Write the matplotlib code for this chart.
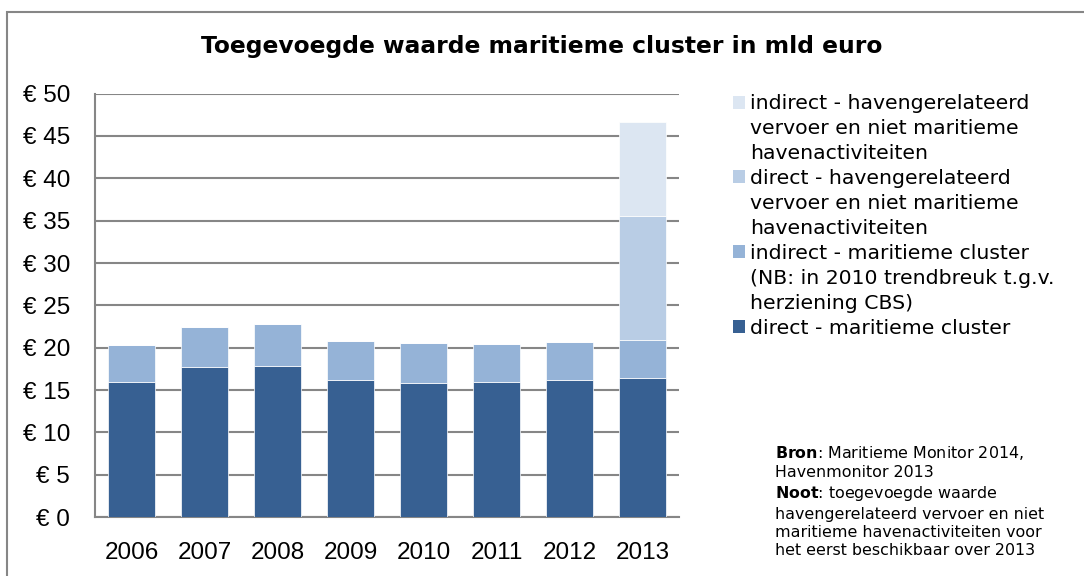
import matplotlib.pyplot as plt
from matplotlib.patches import Patch, Rectangle
import numpy as np

years = ["2006", "2007", "2008", "2009", "2010", "2011", "2012", "2013"]
direct_mar = [16.0, 17.7, 17.8, 16.2, 15.8, 16.0, 16.2, 16.4]
indirect_mar = [4.3, 4.7, 5.0, 4.6, 4.8, 4.4, 4.5, 4.5]
direct_haven = [0, 0, 0, 0, 0, 0, 0, 14.6]
indirect_haven = [0, 0, 0, 0, 0, 0, 0, 11.1]

labels = [
    "indirect - havengerelateerd\nvervoer en niet maritieme\nhavenactiviteiten",
    "direct - havengerelateerd\nvervoer en niet maritieme\nhavenactiviteiten",
    "indirect - maritieme cluster\n(NB: in 2010 trendbreuk t.g.v.\nherziening CBS)",
    "direct - maritieme cluster",
]
colors = ["#DCE6F2", "#B9CDE5", "#95B3D7", "#376092"]

tickfont = ["Liberation Sans", "DejaVu Sans"]

fig = plt.figure(figsize=(10.84, 5.76), dpi=100)
ax = fig.add_axes([0.0876, 0.1024, 0.539, 0.735])

x = np.arange(len(years))
w = 0.64
series = [direct_mar, indirect_mar, direct_haven, indirect_haven]
bottom = np.zeros(len(years))
for vals, col in zip(series, colors[::-1]):
    ax.bar(x, vals, w, bottom=bottom, color=col, edgecolor="white", linewidth=0.5, zorder=3)
    bottom += np.array(vals)

ax.set_ylim(0, 50)
ax.set_xlim(-0.5, len(years) - 0.5)
ax.set_yticks(range(0, 51, 5))
ax.set_yticklabels(["€ %d" % v for v in range(0, 51, 5)], family=tickfont, fontsize=17.5)
ax.set_xticks(x)
ax.set_xticklabels(years, family=tickfont, fontsize=17.5)
ax.tick_params(axis="y", length=0, pad=18)
ax.tick_params(axis="x", length=0, pad=18)
ax.yaxis.grid(True, color="#868686", linewidth=1.5, zorder=0)
for s in ["top", "right"]:
    ax.spines[s].set_visible(False)
for s in ["left", "bottom"]:
    ax.spines[s].set_color("#868686")
    ax.spines[s].set_linewidth(1.5)

fig.text(0.5, 0.92, "Toegevoegde waarde maritieme cluster in mld euro",
         ha="center", va="center", fontsize=16.8, fontweight="bold", family="DejaVu Sans")

# legend: one row per text line, square only on the first line of each entry
handles, lines = [], []
for lab, col in zip(labels, colors):
    for i, part in enumerate(lab.split("\n")):
        handles.append(Patch(facecolor=col if i == 0 else "none", edgecolor="none"))
        lines.append(part)
fig.legend(handles, lines, loc="upper left", bbox_to_anchor=(0.6666, 0.854),
           frameon=False, labelspacing=0.29, handlelength=0.6,
           handleheight=0.6, handletextpad=0.25, borderpad=0,
           prop={"family": "DejaVu Sans", "size": 14.7})

fig.text(0.715, 0.229,
         r"$\bf{Bron}$: Maritieme Monitor 2014," "\n" "Havenmonitor 2013" "\n"
         r"$\bf{Noot}$: toegevoegde waarde" "\n" "havengerelateerd vervoer en niet"
         "\n" "maritieme havenactiviteiten voor" "\n" "het eerst beschikbaar over 2013",
         fontsize=11.4, family="DejaVu Sans", va="top", linespacing=1.28)

fig.patches.append(Rectangle((0.0065, -0.05), 1.2, 1.03, transform=fig.transFigure,
                             fill=False, edgecolor="#868686", linewidth=1.5))

fig.savefig("out.png", dpi=100)
